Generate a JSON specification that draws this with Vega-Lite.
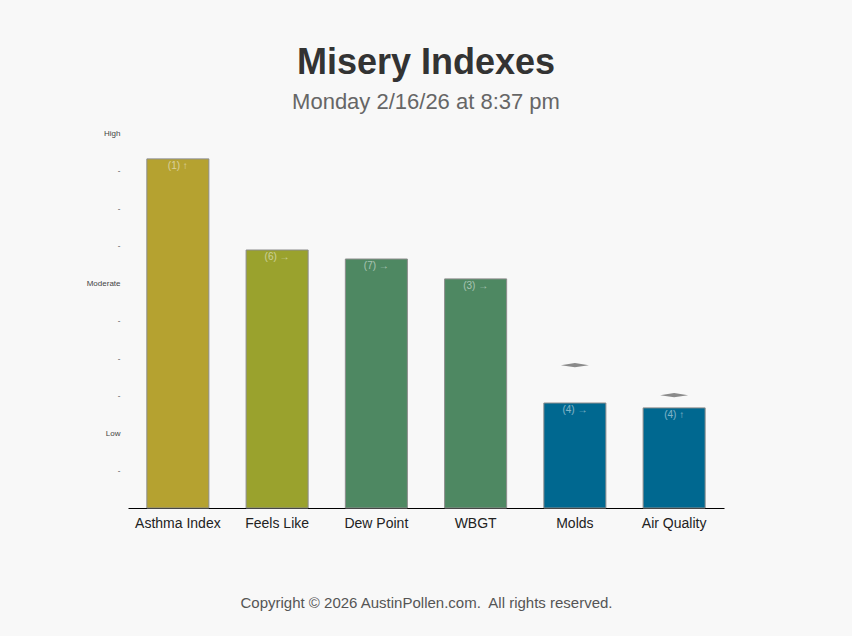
{
  "$schema": "https://vega.github.io/schema/vega-lite/v6.json",
  "width": 596,
  "height": 375,
  "autosize": "none",
  "padding": {"left": 128, "top": 133, "right": 128, "bottom": 128},
  "background": "#f8f8f8",
  "title": {
    "text": "Misery Indexes",
    "subtitle": "Monday 2/16/26 at 8:37 pm",
    "font": "Liberation Sans",
    "subtitleFont": "Liberation Sans",
    "fontSize": 36,
    "fontWeight": "bold",
    "subtitleFontSize": 22,
    "color": "#333333",
    "subtitleColor": "#666666",
    "anchor": "middle",
    "offset": 15,
    "subtitlePadding": 10
  },
  "data": {
    "values": [
      {"name": "Asthma Index", "value": 9.31, "label": "(1) ↑", "level": "Very High", "forecast": null},
      {"name": "Feels Like", "value": 6.88, "label": "(6) →", "level": "High", "forecast": null},
      {"name": "Dew Point", "value": 6.64, "label": "(7) →", "level": "Moderate", "forecast": null},
      {"name": "WBGT", "value": 6.11, "label": "(3) →", "level": "Moderate", "forecast": null},
      {"name": "Molds", "value": 2.8, "label": "(4) →", "level": "Low", "forecast": 3.81},
      {"name": "Air Quality", "value": 2.67, "label": "(4) ↑", "level": "Low", "forecast": 3.01}
    ]
  },
  "encoding": {
    "x": {
      "field": "name",
      "type": "nominal",
      "sort": null,
      "scale": {"paddingInner": 0.375, "paddingOuter": 0.19},
      "axis": {
        "title": "Copyright © 2026 AustinPollen.com.\u00a0 All rights reserved.",
        "titleFont": "Liberation Sans",
        "titleFontSize": 15,
        "titleFontWeight": "normal",
        "titleColor": "#555555",
        "titlePadding": 65,
        "labelAngle": 0,
        "labelFont": "Liberation Sans",
        "labelFontSize": 14,
        "labelColor": "#222222",
        "labelPadding": 8,
        "ticks": false,
        "domainColor": "#000000",
        "domainWidth": 1
      }
    }
  },
  "layer": [
    {
      "mark": {"type": "bar", "stroke": "#8c8c8c", "strokeWidth": 1},
      "encoding": {
        "y": {
          "field": "value",
          "type": "quantitative",
          "scale": {"domain": [0, 10], "nice": false},
          "axis": {
            "title": null,
            "values": [1, 2, 3, 4, 5, 6, 7, 8, 9, 10],
            "labelExpr": "datum.value == 10 ? 'High' : datum.value == 6 ? 'Moderate' : datum.value == 2 ? 'Low' : '-'",
            "labelFont": "Liberation Sans",
            "labelFontSize": 8,
            "labelColor": "#444444",
            "labelPadding": 8,
            "ticks": false,
            "domain": false,
            "grid": false
          }
        },
        "color": {
          "field": "level",
          "type": "nominal",
          "scale": {
            "domain": ["Very High", "High", "Moderate", "Low"],
            "range": ["#b5a230", "#9aa22d", "#4e8862", "#006890"]
          },
          "legend": null
        }
      }
    },
    {
      "mark": {"type": "text", "baseline": "top", "dy": 2, "font": "Liberation Sans", "fontSize": 10, "color": "#ffffff", "opacity": 0.5},
      "encoding": {
        "y": {"field": "value", "type": "quantitative"},
        "text": {"field": "label"}
      }
    },
    {
      "transform": [{"filter": "datum.forecast != null"}],
      "mark": {"type": "point", "shape": "M-1,0 L0,-0.15 L1,0 L0,0.15 Z", "filled": true, "color": "#8a8a8a", "size": 784, "opacity": 1},
      "encoding": {
        "y": {"field": "forecast", "type": "quantitative"}
      }
    }
  ],
  "config": {
    "view": {"stroke": null}
  }
}
